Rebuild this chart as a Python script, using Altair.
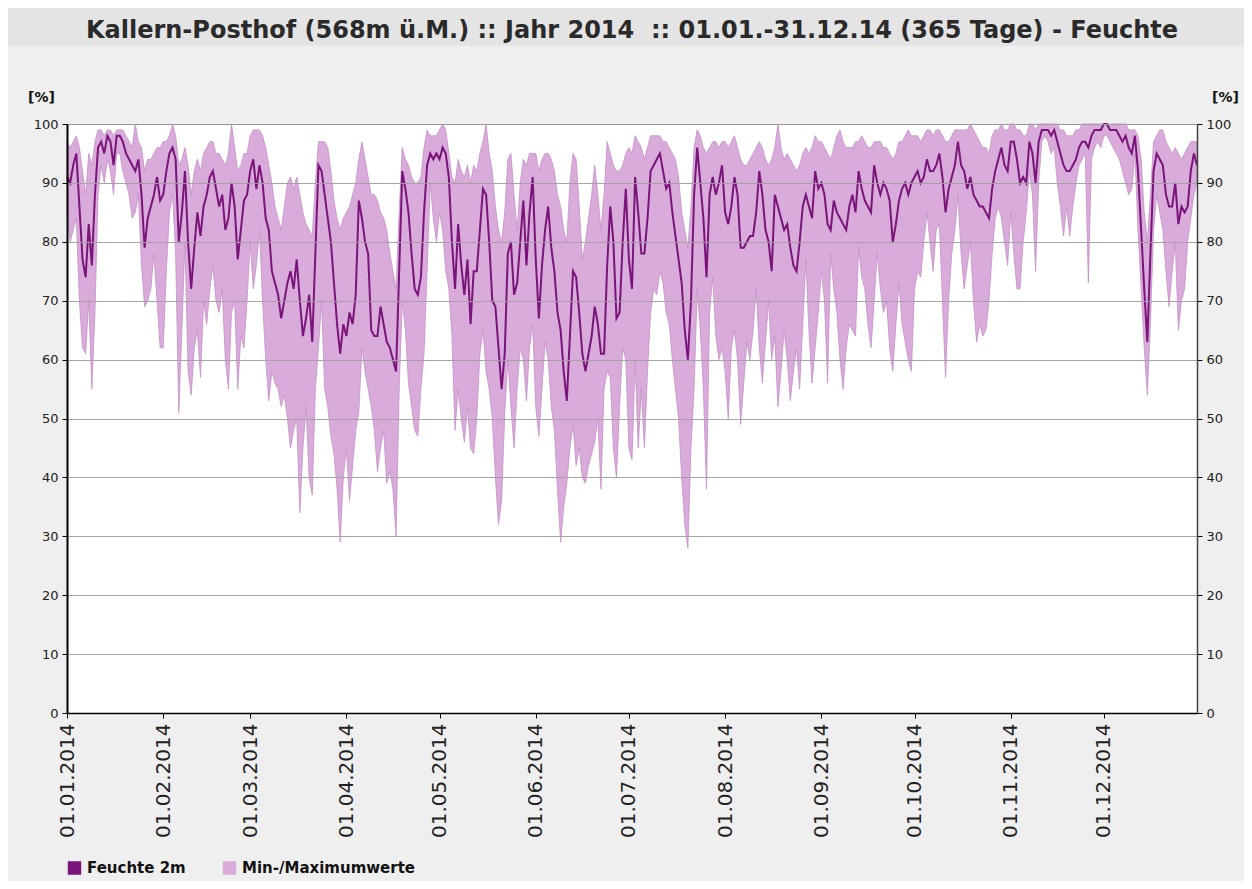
import altair as alt
import pandas as pd

# Daily relative humidity 2014 (percent)
mean_vals = [
    # Jan
    91, 90, 93, 95, 86, 77, 74, 83, 76, 88, 96, 97, 95, 98, 97, 93, 98, 98, 97, 95, 94, 93, 92, 94, 88, 79, 84, 86, 88, 91, 87,
    # Feb
    88, 92, 95, 96, 94, 80, 85, 92, 80, 72, 79, 85, 81, 86, 88, 91, 92, 89, 86, 88, 82, 84, 90, 86, 77, 82, 87, 88,
    # Mar
    92, 94, 89, 93, 90, 84, 82, 75, 73, 71, 67, 70, 73, 75, 72, 77, 70, 64, 67, 71, 63, 78, 93, 92, 88, 84, 80, 73, 66, 61, 66,
    # Apr
    64, 68, 66, 71, 87, 84, 80, 78, 65, 64, 64, 69, 66, 63, 62, 60, 58, 75, 92, 89, 85, 78, 72, 71, 74, 85, 93, 95, 94, 95,
    # May
    94, 96, 95, 91, 80, 72, 83, 76, 71, 77, 66, 75, 75, 82, 89, 88, 80, 70, 69, 62, 55, 61, 78, 80, 71, 73, 80, 87, 76, 85, 91,
    # Jun
    77, 67, 76, 82, 86, 79, 75, 68, 65, 58, 53, 64, 75, 74, 68, 61, 58, 61, 64, 69, 66, 61, 61, 76, 86, 80, 67, 68, 80, 89,
    # Jul
    77, 72, 91, 85, 78, 78, 84, 92, 93, 94, 95, 92, 89, 90, 85, 81, 77, 73, 65, 60, 70, 88, 96, 90, 84, 74, 88, 91, 88, 90, 93,
    # Aug
    85, 83, 86, 91, 88, 79, 79, 80, 81, 81, 85, 92, 88, 82, 80, 75, 88, 86, 84, 82, 83, 79, 76, 75, 80, 86, 88, 86, 84, 92, 89,
    # Sep
    90, 88, 83, 82, 87, 85, 84, 83, 82, 86, 88, 85, 92, 89, 87, 86, 85, 93, 90, 88, 90, 89, 87, 80, 83, 87, 89, 90, 88, 90,
    # Oct
    91, 92, 90, 91, 94, 92, 92, 93, 95, 91, 85, 89, 91, 93, 97, 93, 92, 89, 91, 88, 87, 86, 86, 85, 84, 89, 92, 94, 96, 93, 92,
    # Nov
    97, 97, 94, 90, 91, 90, 97, 95, 90, 97, 99, 99, 99, 98, 99, 97, 95, 93, 92, 92, 93, 94, 96, 97, 97, 96, 98, 99, 99, 99,
    # Dec
    100, 100, 99, 99, 99, 98, 97, 98, 96, 95, 98, 92, 82, 72, 63, 78, 92, 95, 94, 93, 88, 86, 86, 90, 83, 86, 85, 86, 92, 95, 93,
]

max_vals = [
    # Jan
    97, 96, 97, 98, 96, 92, 88, 95, 93, 97, 99, 99, 98, 99, 99, 98, 99, 99, 99, 98, 97, 96, 100, 97, 96, 92, 94, 94, 95, 96, 96,
    # Feb
    97, 97, 98, 100, 98, 93, 94, 96, 93, 88, 92, 94, 92, 95, 96, 97, 97, 95, 95, 94, 93, 95, 100, 96, 92, 93, 95, 95,
    # Mar
    98, 99, 99, 99, 98, 96, 93, 90, 86, 84, 82, 86, 90, 91, 89, 91, 88, 85, 83, 82, 81, 90, 97, 97, 97, 96, 92, 87, 84, 82, 84,
    # Apr
    85, 86, 88, 90, 94, 97, 94, 91, 88, 88, 87, 85, 84, 82, 78, 75, 72, 85, 96, 94, 93, 91, 90, 90, 91, 96, 99, 98, 98, 98,
    # May
    99, 100, 99, 95, 91, 90, 94, 92, 91, 93, 90, 93, 92, 95, 97, 100, 95, 92, 86, 82, 80, 85, 94, 95, 88, 82, 90, 94, 93, 95, 95,
    # Jun
    95, 92, 94, 95, 95, 94, 92, 88, 86, 82, 80, 90, 95, 94, 86, 77, 80, 84, 88, 93, 88, 82, 88, 97, 95, 93, 92, 92, 93, 95,
    # Jul
    96, 95, 98, 97, 96, 94, 96, 98, 98, 98, 98, 97, 97, 96, 95, 94, 91, 85, 82, 79, 86, 96, 99, 98, 96, 95, 96, 97, 97, 96, 97,
    # Aug
    97, 96, 97, 98, 96, 94, 93, 93, 94, 95, 96, 97, 96, 94, 93, 94, 96, 100, 96, 94, 95, 94, 93, 92, 93, 95, 96, 95, 96, 98, 97,
    # Sep
    97, 96, 95, 94, 96, 98, 99, 97, 96, 96, 96, 97, 97, 98, 97, 96, 96, 97, 97, 97, 96, 96, 95, 94, 95, 97, 97, 98, 99, 98,
    # Oct
    98, 98, 97, 98, 99, 99, 98, 99, 99, 98, 97, 97, 98, 99, 99, 99, 99, 99, 100, 99, 98, 97, 96, 96, 95, 98, 99, 99, 100, 99, 99,
    # Nov
    100, 100, 99, 99, 98, 98, 100, 100, 99, 100, 100, 100, 100, 100, 100, 100, 99, 99, 98, 98, 98, 99, 99, 100, 100, 100, 100, 100, 100, 100,
    # Dec
    100, 100, 100, 100, 100, 100, 100, 100, 99, 99, 99, 98, 94, 85, 80, 88, 97, 98, 99, 99, 97, 96, 95, 96, 95, 94, 95, 96, 97, 97, 97,
]

min_vals = [
    # Jan
    85, 80, 82, 84, 70, 62, 61, 70, 55, 68, 88, 93, 90, 94, 92, 88, 95, 95, 92, 90, 88, 84, 85, 88, 76, 69, 70, 72, 78, 70, 62,
    # Feb
    62, 75, 85, 88, 78, 51, 65, 80, 58, 54, 62, 65, 57, 70, 66, 72, 76, 70, 68, 72, 60, 55, 68, 70, 55, 64, 62, 70,
    # Mar
    80, 72, 76, 82, 70, 60, 53, 58, 56, 55, 52, 54, 50, 45, 48, 50, 34, 45, 52, 40, 37, 55, 62, 70, 55, 52, 47, 44, 38, 29, 40,
    # Apr
    45, 36, 42, 48, 51, 62, 58, 55, 52, 48, 41, 45, 48, 39, 41, 38, 30, 55, 70, 65, 56, 52, 48, 47, 55, 61, 75, 90, 84, 80,
    # May
    85, 82, 75, 72, 64, 48, 55, 50, 46, 52, 45, 44, 50, 61, 65, 58, 55, 50, 40, 32, 36, 51, 60, 52, 45, 55, 62, 60, 53, 62, 66,
    # Jun
    52, 47, 55, 63, 60, 52, 48, 38, 29, 35, 39, 45, 49, 42, 45, 40, 39, 42, 44, 46, 50, 38, 55, 58, 57, 45, 40, 52, 62, 60,
    # Jul
    45, 43, 60, 45, 55, 45, 58, 68, 72, 71, 75, 73, 68, 66, 60, 55, 50, 40, 32, 28, 45, 55, 72, 65, 55, 38, 68, 74, 64, 60, 62,
    # Aug
    58, 50, 62, 65, 60, 49, 56, 63, 60, 65, 72, 62, 56, 63, 70, 60, 64, 52, 58, 65, 60, 53, 58, 62, 55, 66, 77, 65, 56, 62, 68,
    # Sep
    75, 70, 56, 78, 72, 68, 60, 55, 62, 66, 65, 64, 79, 74, 72, 66, 62, 70, 78, 72, 68, 70, 62, 58, 66, 73, 66, 63, 60, 58,
    # Oct
    72, 75, 74, 80, 85, 80, 75, 82, 83, 70, 57, 70, 78, 82, 88, 78, 72, 76, 80, 70, 63, 66, 64, 65, 70, 78, 84, 86, 84, 80, 76,
    # Nov
    85, 78, 72, 72, 80, 85, 92, 88, 75, 90, 97, 98, 97, 95, 96, 90, 86, 81, 86, 81, 86, 90, 93, 94, 95, 73, 94, 96, 97, 96,
    # Dec
    98, 98, 97, 96, 95, 94, 92, 90, 88, 89, 95, 82, 72, 62, 54, 66, 82, 88, 85, 82, 75, 69, 75, 80, 65, 70, 72, 80, 84, 88, 90,
]

month_ticks = ["2014-01-01", "2014-02-01", "2014-03-01", "2014-04-01", "2014-05-01", "2014-06-01",
               "2014-07-01", "2014-08-01", "2014-09-01", "2014-10-01", "2014-11-01", "2014-12-01"]
y_ticks = [0, 10, 20, 30, 40, 50, 60, 70, 80, 90, 100]
series_names = ["Feuchte 2m", "Min-/Maximumwerte"]
series_colors = ["#7a147a", "#d9abda"]

title_text = "Kallern-Posthof (568m ü.M.) :: Jahr 2014\u00a0 :: 01.01.-31.12.14 (365 Tage) - Feuchte"

dates = pd.date_range("2014-01-01", "2014-12-31", freq="D").strftime("%Y-%m-%d")
df = pd.DataFrame({"date": dates, "mean": mean_vals, "min": min_vals, "max": max_vals})

FONT = "DejaVu Sans"
W, H = 1130, 589

def tick_dt(s):
    y, m, d = s.split("-")
    return alt.DateTime(year=int(y), month=int(m), date=int(d), utc=True)

x_enc = alt.X(
    "date:T",
    title=None,
    scale=alt.Scale(type="utc", nice=False,
                    domain=[tick_dt("2014-01-01"), tick_dt("2014-12-31")]),
    axis=alt.Axis(values=[tick_dt(s) for s in month_ticks], format="%d.%m.%Y",
                  labelAngle=270, labelFontSize=20, labelFont=FONT, labelColor="#222",
                  labelPadding=5, tickSize=5, tickColor="#000", domainColor="#000",
                  domainWidth=1.5, grid=False, labelOverlap=False, zindex=1),
)

color_scale = alt.Scale(domain=series_names, range=series_colors)
legend = alt.Legend(orient="none", legendX=0, legendY=736, direction="horizontal",
                    title=None, symbolType="square", symbolSize=150, labelFont=FONT,
                    labelFontSize=15, labelFontWeight="bold", labelColor="#111",
                    labelLimit=400, columnPadding=34, symbolStrokeWidth=1.2,
                    symbolStrokeColor="#555", labelOffset=5, symbolOpacity=1)

def y_axis(orient, title_x):
    return alt.Axis(orient=orient, values=y_ticks, title="[%]", titleAngle=0,
                    titleX=title_x, titleY=-27, titleAlign="center", titleBaseline="middle",
                    titleFont=FONT, titleFontSize=14, titleFontWeight="bold", titleColor="#111",
                    labelFont=FONT, labelFontSize=13, labelColor="#222", labelPadding=4,
                    tickSize=5, tickColor="#000", domainColor="#000" if orient == "left" else "#444",
                    domainWidth=2 if orient == "left" else 1.5,
                    grid=True, gridColor="#a0a0a0", gridWidth=1, gridOpacity=0.75, zindex=1)

y_scale = alt.Scale(domain=[0, 100], nice=False)

header = alt.Chart(pd.DataFrame({"k": [0]})).mark_rect(color="#e4e4e4").encode(
    x=alt.value(-67), x2=alt.value(W + 55), y=alt.value(-124), y2=alt.value(-78)
)

band = alt.Chart(df).transform_calculate(series="'Min-/Maximumwerte'").mark_area(
    stroke="#c48fc6", strokeWidth=0.8, interpolate="linear"
).encode(
    x=x_enc,
    y=alt.Y("max:Q", scale=y_scale, axis=y_axis("left", -26)),
    y2="min:Q",
    color=alt.Color("series:N", scale=color_scale, legend=legend),
)

line = alt.Chart(df).transform_calculate(series="'Feuchte 2m'").mark_line(
    strokeWidth=2, interpolate="linear"
).encode(
    x=x_enc,
    y=alt.Y("mean:Q", scale=y_scale, axis=y_axis("right", 28)),
    color=alt.Color("series:N", scale=color_scale, legend=legend),
)

chart = alt.layer(header, band, line).resolve_axis(y="independent").properties(
    width=W, height=H,
    autosize=alt.AutoSizeParams(type="none"),
    padding={"left": 59, "top": 116, "right": 47, "bottom": 168},
    background="#efefef",
    title=alt.TitleParams(text=title_text, font=FONT, fontSize=24, fontWeight="bold",
                          color="#2a2a2a", anchor="middle", dy=47),
).configure_view(stroke="#000", strokeWidth=1, fill="#ffffff")

chart.save("out.html", embed_options={"renderer": "svg", "actions": False})
